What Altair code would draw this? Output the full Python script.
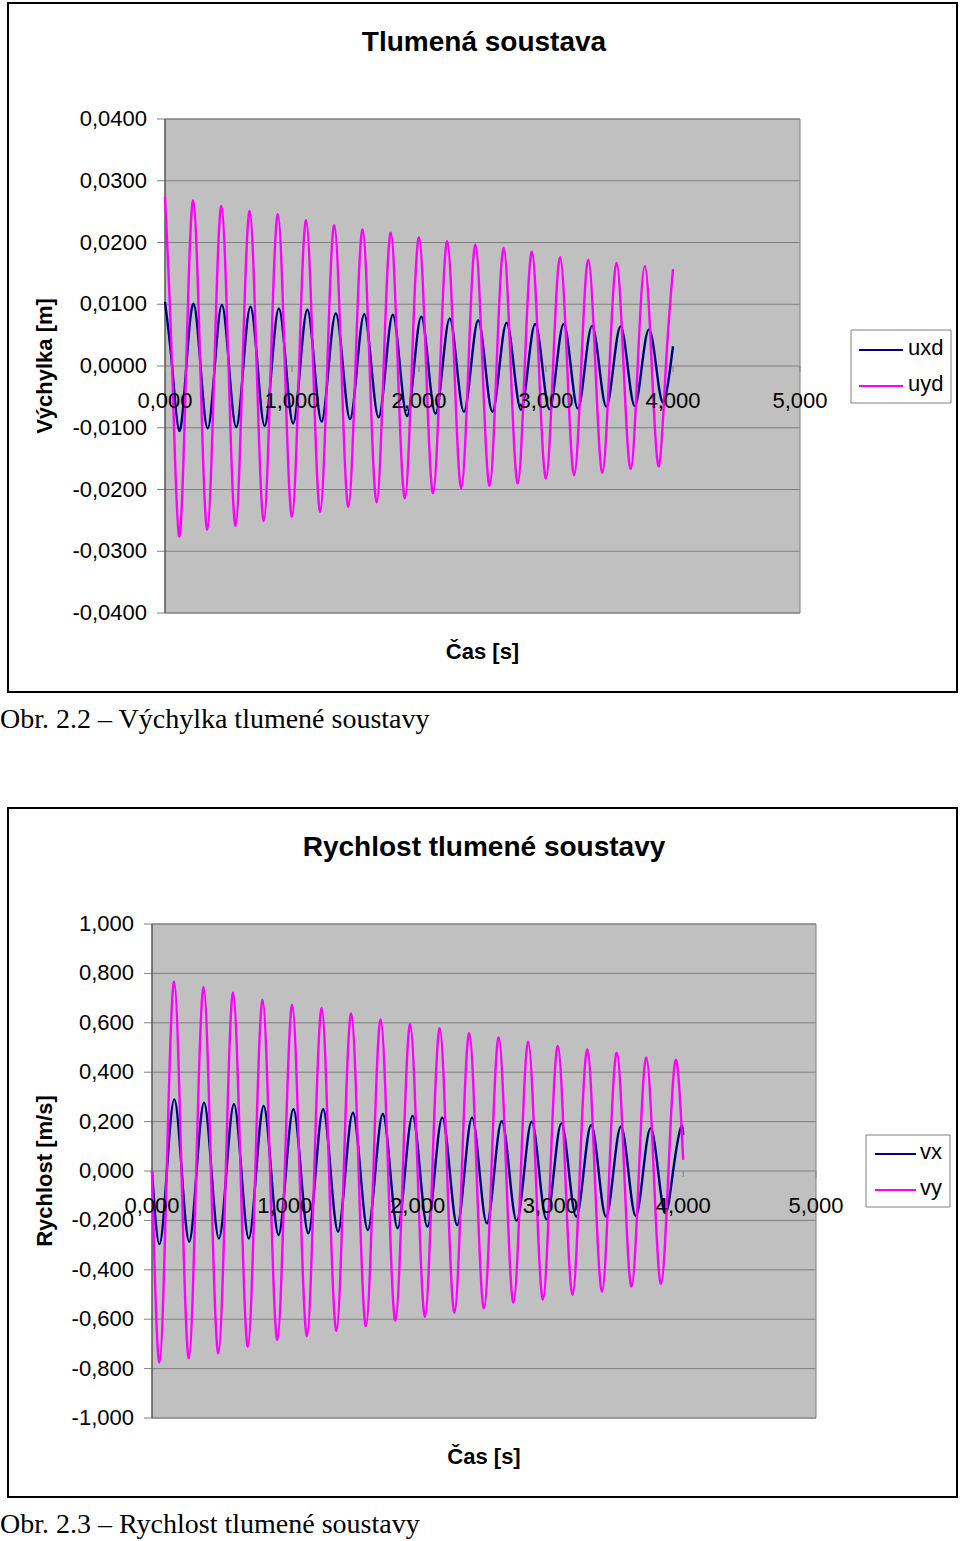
import altair as alt
import pandas as pd

# ---------------- data ----------------
# time grid of the y-series (peaks / zero crossings / troughs), s
t_y = [0.000, 0.056, 0.111, 0.167, 0.222, 0.278, 0.333, 0.389, 0.444, 0.500, 0.556, 0.611,
       0.667, 0.722, 0.778, 0.833, 0.889, 0.944, 1.000, 1.056, 1.111, 1.167, 1.222, 1.278,
       1.333, 1.389, 1.444, 1.500, 1.556, 1.611, 1.667, 1.722, 1.778, 1.833, 1.889, 1.944,
       2.000, 2.056, 2.111, 2.167, 2.222, 2.278, 2.333, 2.389, 2.444, 2.500, 2.556, 2.611,
       2.667, 2.722, 2.778, 2.833, 2.889, 2.944, 3.000, 3.056, 3.111, 3.167, 3.222, 3.278,
       3.333, 3.389, 3.444, 3.500, 3.556, 3.611, 3.667, 3.722, 3.778, 3.833, 3.889, 3.944,
       4.000]

uyd = [0.0274, 0, -0.0276, 0, 0.0268, 0, -0.0265, 0, 0.0259, 0, -0.0259, 0,
       0.0251, 0, -0.0251, 0, 0.0246, 0, -0.0244, 0, 0.0236, 0, -0.0236, 0,
       0.0228, 0, -0.0228, 0, 0.0221, 0, -0.0221, 0, 0.0216, 0, -0.0214, 0,
       0.0208, 0, -0.0206, 0, 0.0202, 0, -0.0198, 0, 0.0197, 0, -0.0194, 0,
       0.0191, 0, -0.0190, 0, 0.0185, 0, -0.0182, 0, 0.0176, 0, -0.0177, 0,
       0.0172, 0, -0.0173, 0, 0.0167, 0, -0.0167, 0, 0.0162, 0, -0.0162, 0,
       0.0157]

vy = [0, -0.776, 0, 0.766, 0, -0.758, 0, 0.744, 0, -0.738, 0, 0.722,
      0, -0.711, 0, 0.692, 0, -0.684, 0, 0.672, 0, -0.668, 0, 0.659,
      0, -0.647, 0, 0.638, 0, -0.628, 0, 0.614, 0, -0.606, 0, 0.594,
      0, -0.590, 0, 0.578, 0, -0.574, 0, 0.558, 0, -0.556, 0, 0.541,
      0, -0.533, 0, 0.524, 0, -0.520, 0, 0.506, 0, -0.502, 0, 0.493,
      0, -0.489, 0, 0.479, 0, -0.468, 0, 0.460, 0, -0.457, 0, 0.449,
      0.045]

# time grid of the x-series (slightly slower), s
t_x = [0.000, 0.056, 0.112, 0.168, 0.224, 0.280, 0.336, 0.392, 0.448, 0.504, 0.561, 0.617,
       0.673, 0.729, 0.785, 0.841, 0.897, 0.953, 1.009, 1.065, 1.121, 1.177, 1.233, 1.289,
       1.345, 1.401, 1.457, 1.513, 1.569, 1.625, 1.682, 1.738, 1.794, 1.850, 1.906, 1.962,
       2.018, 2.074, 2.130, 2.186, 2.242, 2.298, 2.354, 2.410, 2.466, 2.522, 2.578, 2.634,
       2.690, 2.746, 2.803, 2.859, 2.915, 2.971, 3.027, 3.083, 3.139, 3.195, 3.251, 3.307,
       3.363, 3.419, 3.475, 3.531, 3.587, 3.643, 3.699, 3.755, 3.811, 3.867, 3.924, 3.980,
       4.000]

uxd = [0.0104, 0, -0.0105, 0, 0.0101, 0, -0.0101, 0, 0.0099, 0, -0.0099, 0,
       0.0096, 0, -0.0097, 0, 0.0093, 0, -0.0093, 0, 0.0091, 0, -0.0090, 0,
       0.0085, 0, -0.0086, 0, 0.0084, 0, -0.0083, 0, 0.0083, 0, -0.0081, 0,
       0.0080, 0, -0.0077, 0, 0.0077, 0, -0.0074, 0, 0.0074, 0, -0.0074, 0,
       0.0070, 0, -0.0071, 0, 0.0068, 0, -0.0070, 0, 0.0068, 0, -0.0069, 0,
       0.0065, 0, -0.0066, 0, 0.0064, 0, -0.0065, 0, 0.0059, 0, -0.0059, 0,
       0.0032]

vx = [0, -0.296, 0, 0.290, 0, -0.286, 0, 0.277, 0, -0.273, 0, 0.270,
      0, -0.273, 0, 0.263, 0, -0.259, 0, 0.250, 0, -0.252, 0, 0.250,
      0, -0.245, 0, 0.236, 0, -0.239, 0, 0.231, 0, -0.232, 0, 0.223,
      0, -0.225, 0, 0.216, 0, -0.219, 0, 0.216, 0, -0.212, 0, 0.202,
      0, -0.201, 0, 0.200, 0, -0.196, 0, 0.193, 0, -0.185, 0, 0.186,
      0, -0.185, 0, 0.180, 0, -0.182, 0, 0.173, 0, -0.171, 0, 0.173,
      0.146]

time_ticks = [0, 1, 2, 3, 4, 5]
time_labels = ["0,000", "1,000", "2,000", "3,000", "4,000", "5,000"]
disp_ticks = [-0.04, -0.03, -0.02, -0.01, 0.0, 0.01, 0.02, 0.03, 0.04]
disp_labels = ["-0,0400", "-0,0300", "-0,0200", "-0,0100", "0,0000",
               "0,0100", "0,0200", "0,0300", "0,0400"]
vel_ticks = [-1.0, -0.8, -0.6, -0.4, -0.2, 0.0, 0.2, 0.4, 0.6, 0.8, 1.0]
vel_labels = ["-1,000", "-0,800", "-0,600", "-0,400", "-0,200", "0,000",
              "0,200", "0,400", "0,600", "0,800", "1,000"]

top_names = ["uxd", "uyd"]
bot_names = ["vx", "vy"]
COLORS = ["#000080", "#FF00FF"]

# ---------------- styling ----------------
SANS = "Liberation Sans"
SERIF = "Liberation Serif"
PLOT_BG = "#C0C0C0"
GRID = "#808080"
one = pd.DataFrame({"a": [0]})


def txt(s, x, y, size=22, bold=False, font=SANS, align="center", baseline="middle", angle=0):
    kw = dict(text=s, font=font, fontSize=size, align=align, baseline=baseline, color="black")
    if bold:
        kw["fontWeight"] = "bold"
    if angle:
        kw["angle"] = angle
    return alt.Chart(one).mark_text(**kw).encode(x=alt.value(x), y=alt.value(y))


def box(x1, x2, y1, y2, fill, stroke, sw):
    return alt.Chart(one).mark_rect(fill=fill, stroke=stroke, strokeWidth=sw).encode(
        x=alt.value(x1), x2=alt.value(x2), y=alt.value(y1), y2=alt.value(y2))


def seg(x1, x2, y, color, sw):
    return alt.Chart(one).mark_rule(color=color, strokeWidth=sw).encode(
        x=alt.value(x1), x2=alt.value(x2), y=alt.value(y))


def panel(df, names, ydom, y_ticks, y_labels, xr, yr, frame, title, title_y,
          ytitle, xtitle_y, leg):
    xs = alt.Scale(domain=[0, 5], range=xr, nice=False, zero=False)
    ys = alt.Scale(domain=ydom, range=yr, nice=False, zero=False)
    zero_px = (yr[0] + yr[1]) / 2
    grid_df = pd.DataFrame({"tick": y_ticks, "label": y_labels})
    xt_df = pd.DataFrame({"tick": time_ticks, "label": time_labels})
    cx = (xr[0] + xr[1]) / 2

    layers = [box(*frame, "white", "black", 2)]
    layers.append(alt.Chart(one).mark_rect(fill=PLOT_BG, stroke=GRID, strokeWidth=1).encode(
        x=alt.XDatum(0, scale=xs, axis=None), x2=alt.X2Datum(5),
        y=alt.YDatum(ydom[0], scale=ys, axis=None), y2=alt.Y2Datum(ydom[1])))
    layers.append(alt.Chart(grid_df).mark_rule(color=GRID, strokeWidth=1).encode(
        y=alt.Y("tick:Q", scale=ys, axis=None),
        x=alt.XDatum(0, scale=xs, axis=None), x2=alt.X2Datum(5)))
    layers.append(alt.Chart(grid_df).mark_rule(color=GRID, strokeWidth=1).encode(
        y=alt.Y("tick:Q", scale=ys, axis=None),
        x=alt.value(xr[0] - 8), x2=alt.value(xr[0])))
    layers.append(alt.Chart(one).mark_rule(color="#404040", strokeWidth=1).encode(
        x=alt.XDatum(0, scale=xs, axis=None),
        y=alt.YDatum(ydom[0], scale=ys, axis=None), y2=alt.Y2Datum(ydom[1])))
    layers.append(alt.Chart(xt_df).mark_rule(color=GRID, strokeWidth=1).encode(
        x=alt.X("tick:Q", scale=xs, axis=None),
        y=alt.YDatum(0, scale=ys, axis=None), y2=alt.value(zero_px + 6)))
    layers.append(alt.Chart(df).mark_line(strokeWidth=2.4, interpolate="natural").encode(
        x=alt.X("t:Q", scale=xs, axis=None),
        y=alt.Y("v:Q", scale=ys, axis=None),
        color=alt.Color("s:N", scale=alt.Scale(domain=names, range=COLORS), legend=None)))
    layers.append(alt.Chart(grid_df).mark_text(align="right", baseline="middle", font=SANS,
                                               fontSize=22, color="black").encode(
        y=alt.Y("tick:Q", scale=ys, axis=None), x=alt.value(xr[0] - 18), text="label:N"))
    layers.append(alt.Chart(xt_df).mark_text(align="center", baseline="middle", font=SANS,
                                             fontSize=22, dy=35, color="black").encode(
        x=alt.X("tick:Q", scale=xs, axis=None),
        y=alt.YDatum(0, scale=ys, axis=None), text="label:N"))
    layers.append(txt(title, 484, title_y, size=28, bold=True))
    layers.append(txt(ytitle, 45, zero_px, size=22, bold=True, angle=270))
    layers.append(txt("Čas [s]", cx, xtitle_y, size=22, bold=True))
    # legend
    bx1, bx2, by1, by2, lx1, lx2, ly1, ly2, tx = leg
    layers.append(box(bx1, bx2, by1, by2, "white", GRID, 1))
    layers.append(seg(lx1, lx2, ly1, COLORS[0], 2))
    layers.append(seg(lx1, lx2, ly2, COLORS[1], 2))
    layers.append(txt(names[0], tx, ly1 - 2, align="left"))
    layers.append(txt(names[1], tx, ly2 - 2, align="left"))
    return alt.layer(*layers)


top_df = pd.DataFrame({"t": t_x + t_y, "v": uxd + uyd,
                       "s": ["uxd"] * len(t_x) + ["uyd"] * len(t_y)})
bot_df = pd.DataFrame({"t": t_x + t_y, "v": vx + vy,
                       "s": ["vx"] * len(t_x) + ["vy"] * len(t_y)})

top = panel(top_df, top_names, [-0.04, 0.04], disp_ticks, disp_labels,
            [165, 800], [613, 119], (8, 957, 3, 692), "Tlumená soustava", 43,
            "Výchylka [m]", 652,
            (851, 951, 330, 403, 859, 903, 350, 386, 908))
bottom = panel(bot_df, bot_names, [-1.0, 1.0], vel_ticks, vel_labels,
               [152, 816], [1418, 924], (8, 957, 808, 1497), "Rychlost tlumené soustavy", 848,
               "Rychlost [m/s]", 1457,
               (866, 950, 1135, 1207, 875, 916, 1154, 1190, 920))

cap1 = txt("Obr. 2.2 – Výchylka tlumené soustavy", 0, 728, size=28, font=SERIF,
           align="left", baseline="alphabetic")
cap2 = txt("Obr. 2.3 – Rychlost tlumené soustavy", 0, 1533, size=28, font=SERIF,
           align="left", baseline="alphabetic")

chart = alt.layer(top, bottom, cap1, cap2).resolve_scale(
    x="independent", y="independent", color="independent"
).properties(
    width=960, height=1541,
    autosize=alt.AutoSizeParams(type="none"),
    padding=0, background="white"
).configure_view(stroke="transparent")

chart.save("out.html", embed_options={"renderer": "svg", "actions": False})
